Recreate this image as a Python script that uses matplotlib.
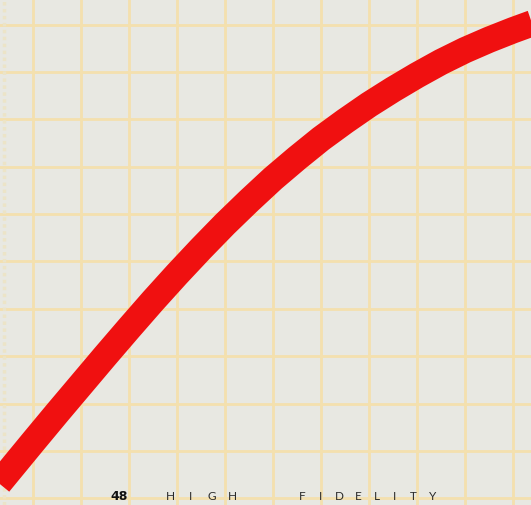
import numpy as np
import matplotlib
matplotlib.use('Agg')  # non-GUI backend
import matplotlib.pyplot as plt

# curve, in grid units (one square = 1)
# first and last points run a little past the page edge
curve_x = [-1.4, -0.69, 0, 0.5, 1, 1.5, 2, 2.5, 3, 3.5, 4, 4.5, 5, 5.5,
           6, 6.5, 7, 7.5, 8, 8.5, 9, 9.5, 10, 10.38, 10.7]
curve_y = [-1.54, -0.66, 0.19, 0.80, 1.40, 2.00, 2.59, 3.17, 3.73, 4.27, 4.79, 5.28, 5.75, 6.18,
           6.59, 6.96, 7.31, 7.63, 7.93, 8.21, 8.46, 8.68, 8.88, 9.02, 9.13]

grid_x = list(range(0, 11))
grid_y = list(range(-1, 10))

page_number = '48'
footer_words = ['HIGH', 'FIDELITY']

fig = plt.figure(figsize=(5.31, 5.06), dpi=100)
fig.patch.set_facecolor('#e8e8e2')
ax = fig.add_axes([0, 0, 1, 1])
ax.set_facecolor('#e8e8e2')
ax.set_xlim(-0.6875, 10.375)
ax.set_ylim(-1.14, 9.54)

for gx in grid_x:
    ax.axvline(gx, color='#f4e0ae', lw=2.0, zorder=1)
for gy in grid_y:
    ax.axhline(gy, color='#f4e0ae', lw=2.0, zorder=1)
# scan edge of the paper
ax.axvline(-0.6, color='#ece4c8', lw=2.5, ls=(0, (1, 1)), zorder=1)

ax.plot(curve_x, curve_y, color='#f01010', lw=19,
        solid_capstyle='butt', solid_joinstyle='round', zorder=3)

ax.set_xticks([])
ax.set_yticks([])
for s in ax.spines.values():
    s.set_visible(False)

# footer: page number and spaced-out magazine name
fig.text(110 / 531, 1 - 497 / 506, page_number, fontsize=9, fontweight='bold',
         color='#111111', va='center', ha='left', family='DejaVu Sans')
starts = [170, 302]
steps = [20.7, 18.6]
for word, x0, step in zip(footer_words, starts, steps):
    for i, ch in enumerate(word):
        fig.text((x0 + i * step) / 531, 1 - 497 / 506, ch, fontsize=8.5,
                 color='#2a2a2a', va='center', ha='center', family='Lato')

fig.savefig('out.png', dpi=100, facecolor=fig.get_facecolor())
